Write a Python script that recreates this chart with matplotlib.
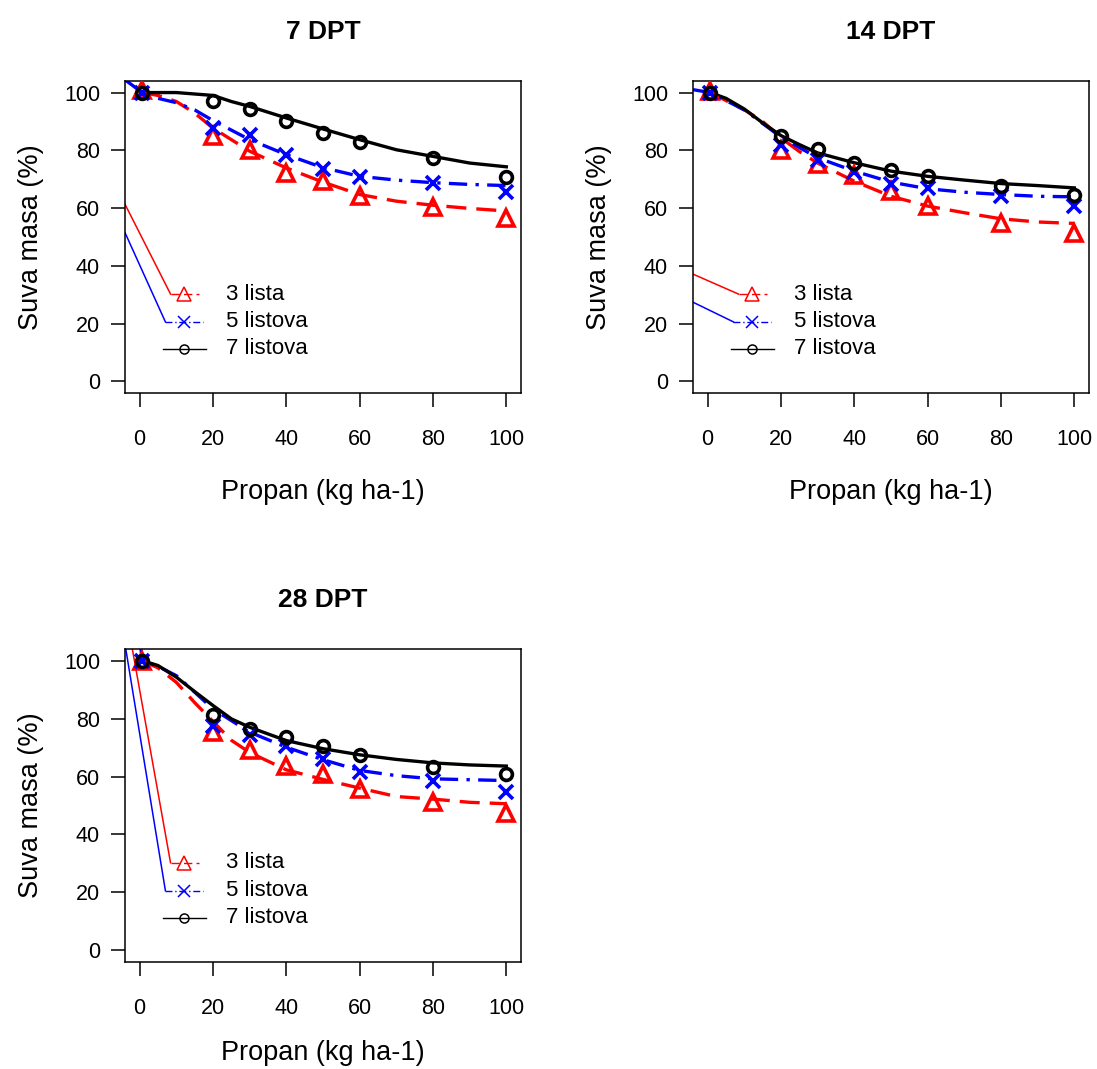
import numpy as np
import matplotlib
matplotlib.use("Agg")
import matplotlib.pyplot as plt

plt.rcParams['font.family'] = ['Liberation Sans', 'DejaVu Sans']

# === Podaci ===
doze = [0.7, 20, 30, 40, 50, 60, 80, 100]
serije = ['3 lista', '5 listova', '7 listova']
paneli = ['7 DPT', '14 DPT', '28 DPT']

# izmjerene vrijednosti (suva masa %)
obs_7_3 = [100.8, 84.8, 80.0, 72.2, 69.3, 64.1, 60.3, 56.7]
obs_7_5 = [100.0, 87.7, 85.4, 78.3, 73.6, 70.7, 68.8, 65.7]
obs_7_7 = [100.0, 97.2, 94.3, 90.0, 86.0, 83.0, 77.5, 70.9]

obs_14_3 = [100.7, 80.0, 75.1, 71.3, 65.9, 60.7, 54.7, 51.5]
obs_14_5 = [100.0, 82.0, 76.8, 72.4, 68.5, 67.0, 64.1, 60.9]
obs_14_7 = [100.0, 84.8, 80.5, 75.7, 73.3, 71.0, 67.8, 64.7]

obs_28_3 = [100.0, 75.3, 69.0, 63.8, 61.0, 55.8, 51.2, 47.4]
obs_28_5 = [100.0, 77.6, 74.4, 70.7, 66.1, 61.7, 58.6, 54.6]
obs_28_7 = [100.0, 81.3, 76.4, 73.6, 70.5, 67.5, 63.4, 60.9]

# krive modela
cx_7_3 = [0.7, 5, 10, 15, 20, 30, 40, 50, 60, 70, 80, 90, 100]
cy_7_3 = [100, 99, 96.9, 92.9, 87.7, 79.7, 73.9, 69.0, 64.7, 62.4, 61.0, 59.9, 59.0]
cx_7_5 = [-4, 0.7, 5, 10, 15, 20, 30, 40, 50, 60, 70, 80, 90, 100]
cy_7_5 = [104.4, 100, 98, 96.5, 94, 90.3, 83.7, 78.5, 74.0, 71.0, 69.7, 68.8, 68.2, 67.8]
cx_7_7 = [0.7, 10, 15, 20, 25, 30, 40, 50, 60, 70, 80, 90, 100]
cy_7_7 = [100, 100, 99.5, 99, 96.9, 95.2, 91.2, 87.4, 83.7, 80.2, 77.9, 75.6, 74.3]

cx_14_3 = [0.7, 10, 15, 20, 25, 30, 40, 50, 60, 70, 80, 90, 100]
cy_14_3 = [100, 94, 90, 84.3, 79.6, 75.6, 69.3, 64.1, 60.7, 58.4, 56.3, 55.2, 54.7]
cx_14_5 = [-4, 0.7, 10, 20, 30, 40, 50, 60, 70, 80, 90, 100]
cy_14_5 = [101, 100, 94, 84.6, 77.4, 72.8, 69.0, 66.7, 65.5, 64.7, 64.1, 63.9]
cx_14_7 = [0.7, 5, 10, 15, 20, 25, 30, 40, 50, 60, 70, 80, 90, 100]
cy_14_7 = [100, 98, 94.3, 89.5, 85.1, 82, 79.1, 75.7, 72.8, 71.0, 69.7, 68.5, 67.8, 67.0]

cx_28_3 = [0.7, 5, 10, 15, 20, 25, 30, 40, 50, 60, 70, 80, 90, 100]
cy_28_3 = [100, 97.5, 92.5, 85.5, 79, 72.5, 68.3, 62.3, 59, 56, 53.1, 52.2, 51.1, 50.6]
cx_28_5 = [0.2, 0.7, 5, 10, 15, 20, 25, 30, 40, 50, 60, 70, 80, 90, 100]
cy_28_5 = [106, 100, 98, 94.8, 89.1, 83.3, 79.3, 75.3, 70.1, 65.8, 62.1, 60.3, 59.2, 58.9, 58.6]
cx_28_7 = [0.7, 5, 10, 15, 20, 25, 30, 40, 50, 60, 70, 80, 90, 100]
cy_28_7 = [100, 98.3, 94.3, 89.3, 84.5, 79.9, 77, 72.4, 69.6, 67.5, 65.9, 64.7, 64.0, 63.6]

# === Stil serija ===
BOJE = ['#FF0000', '#0000FF', '#000000']
MARKERI = ['^', 'x', 'o']
MS = [11.5, 10, 8.5]
LEG_MS = [9.5, 8.5, 6.5]
CRTE = [(0, (6, 3)), (0, (5.5, 2.5, 1, 2.5)), '-']
LEG_CRTE = [(0, (6, 3)), (0, (5, 2, 1, 2)), '-']

# legenda (udio osi): y, x pocetak, x kraj
LEG_Y = [0.317, 0.228, 0.142]
LEG_X0 = [0.115, 0.102, 0.096]
LEG_X1 = [0.188, 0.198, 0.205]

# cudne linije od ruba do legende (pocetak, udio osi)
PRAVCI = {
    '7 DPT': [(0.0, 0.605), (0.0, 0.514)],
    '14 DPT': [(0.0, 0.381), (0.0, 0.291)],
    '28 DPT': [(0.0185, 1.0), (0.002, 1.0)],
}


def nacrtaj_panel(ax, naslov, obs, krive, xpad=21):
    for i in range(3):
        cx, cy = krive[i]
        ax.plot(cx, cy, color=BOJE[i], lw=2.4, ls=CRTE[i], zorder=2)
        ax.plot(doze, obs[i], ls='none', marker=MARKERI[i], ms=MS[i],
                mfc='none', mec=BOJE[i], mew=2.6, zorder=3)

    # legenda
    for i in range(3):
        ax.plot([LEG_X0[i], LEG_X1[i]], [LEG_Y[i], LEG_Y[i]], transform=ax.transAxes,
                color=BOJE[i], lw=1, ls=LEG_CRTE[i])
        ax.plot([0.150], [LEG_Y[i]], transform=ax.transAxes, ls='none',
                marker=MARKERI[i], ms=LEG_MS[i], mfc='none', mec=BOJE[i], mew=1.1)
        ax.text(0.256, LEG_Y[i], serije[i], transform=ax.transAxes,
                va='center', ha='left', fontsize=16)

    for i, (sx, sy) in enumerate(PRAVCI[naslov]):
        ax.plot([sx, LEG_X0[i]], [sy, LEG_Y[i]], transform=ax.transAxes,
                color=BOJE[i], lw=1.1)

    ax.set_xlim(-4, 104)
    ax.set_ylim(-4, 104)
    ax.set_xticks([0, 20, 40, 60, 80, 100])
    ax.set_yticks([0, 20, 40, 60, 80, 100])
    ax.tick_params(axis='both', direction='out', length=10, width=1.1, labelsize=15.5)
    ax.tick_params(axis='x', pad=16)
    ax.tick_params(axis='y', pad=8)
    for s in ax.spines.values():
        s.set_linewidth(1.1)
    ax.set_title(naslov, fontsize=19, fontweight='bold', pad=30)
    ax.set_xlabel('Propan (kg ha-1)', fontsize=19.5, labelpad=xpad)
    ax.set_ylabel('Suva masa (%)', fontsize=19.5, labelpad=14)


fig = plt.figure(figsize=(10.97, 10.69), dpi=100)
W, H = 396 / 1097, 312 / 1069
ax1 = fig.add_axes([125 / 1097, 1 - 393 / 1069, W, H])
ax2 = fig.add_axes([693 / 1097, 1 - 393 / 1069, W, H])
ax3 = fig.add_axes([125 / 1097, 1 - 962 / 1069, W, 313 / 1069])

nacrtaj_panel(ax1, paneli[0], [obs_7_3, obs_7_5, obs_7_7],
              [(cx_7_3, cy_7_3), (cx_7_5, cy_7_5), (cx_7_7, cy_7_7)])
nacrtaj_panel(ax2, paneli[1], [obs_14_3, obs_14_5, obs_14_7],
              [(cx_14_3, cy_14_3), (cx_14_5, cy_14_5), (cx_14_7, cy_14_7)])
nacrtaj_panel(ax3, paneli[2], [obs_28_3, obs_28_5, obs_28_7],
              [(cx_28_3, cy_28_3), (cx_28_5, cy_28_5), (cx_28_7, cy_28_7)], xpad=15)

fig.savefig('out.png', dpi=100)
